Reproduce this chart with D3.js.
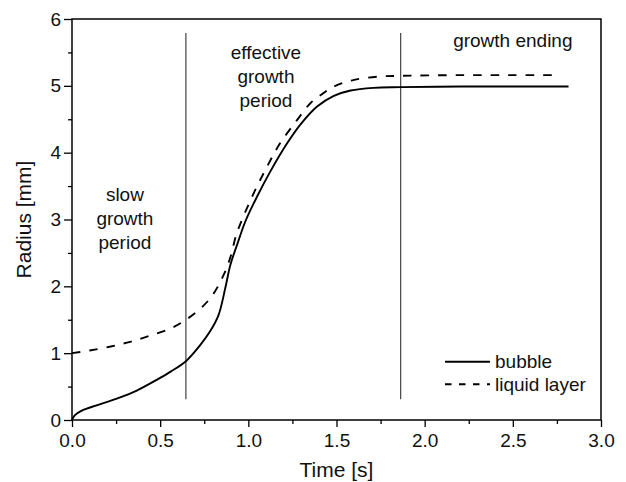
<!DOCTYPE html>
<html>
<head>
<meta charset="utf-8">
<script src="https://cdn.jsdelivr.net/npm/d3@7"></script>
<style>
  html, body { margin: 0; padding: 0; background: #fff; }
  svg { display: block; font-family: "Liberation Sans", Arial, sans-serif; }
</style>
</head>
<body>
<svg id="chart" width="626" height="482"></svg>
<script>
// Bubble radius over time (s, mm)
const bubbleTime = [0, 0.01, 0.03, 0.064, 0.14, 0.254, 0.367, 0.48, 0.557, 0.646, 0.727, 0.784, 0.831, 0.869, 0.898, 0.936, 0.983, 1.049, 1.125, 1.22, 1.295, 1.39, 1.485, 1.58, 1.71, 1.864, 2.2, 2.5, 2.816];
const bubbleRadius = [0, 0.05, 0.10, 0.15, 0.22, 0.32, 0.44, 0.60, 0.72, 0.88, 1.12, 1.33, 1.57, 1.97, 2.32, 2.62, 2.97, 3.34, 3.72, 4.14, 4.42, 4.69, 4.85, 4.93, 4.97, 4.98, 4.99, 4.99, 4.99];

// Liquid layer radius over time (s, mm)
const layerTime = [0, 0.1, 0.22, 0.33, 0.44, 0.56, 0.646, 0.73, 0.80, 0.86, 0.90, 0.93, 0.96, 1.03, 1.106, 1.18, 1.277, 1.352, 1.42, 1.485, 1.6, 1.75, 1.864, 2.2, 2.5, 2.76];
const layerRadius = [1.0, 1.04, 1.10, 1.17, 1.26, 1.37, 1.50, 1.67, 1.88, 2.17, 2.45, 2.76, 2.97, 3.39, 3.79, 4.14, 4.49, 4.74, 4.88, 4.99, 5.09, 5.14, 5.15, 5.16, 5.16, 5.16];

// Boundaries between growth stages (s)
const stageBounds = [0.646, 1.864];

// Axis ticks
const xMajorTicks = [0, 0.5, 1.0, 1.5, 2.0, 2.5, 3.0];
const xMinorTicks = [0.25, 0.75, 1.25, 1.75, 2.25, 2.75];
const yMajorTicks = [0, 1, 2, 3, 4, 5, 6];
const yMinorTicks = [0.5, 1.5, 2.5, 3.5, 4.5, 5.5];

// Stage annotations: lines of text and anchor position in data units
const stageLabels = [
  { lines: ["slow", "growth", "period"], t: 0.3, r: 3.27 },
  { lines: ["effective", "growth", "period"], t: 1.1, r: 5.4 },
  { lines: ["growth ending"], t: 2.5, r: 5.58 }
];

const legendItems = [
  { name: "bubble", dash: null },
  { name: "liquid layer", dash: "6.5,7.5" }
];

const svg = d3.select("#chart");
const plotLeft = 72, plotRight = 601, plotTop = 19, plotBottom = 420;

const x = d3.scaleLinear().domain([0, 3]).range([plotLeft, plotRight]);
const y = d3.scaleLinear().domain([0, 6]).range([plotBottom, plotTop]);

// Frame
svg.append("rect")
  .attr("x", plotLeft).attr("y", plotTop)
  .attr("width", plotRight - plotLeft).attr("height", plotBottom - plotTop)
  .attr("fill", "none").attr("stroke", "#000").attr("stroke-width", 1.5);

// Axes
const styleAxis = g => {
  g.select(".domain").remove();
  g.selectAll("line").attr("stroke", "#000").attr("stroke-width", 1.3);
  g.selectAll("text").attr("fill", "#111").style("font-size", "19px")
    .style("font-family", '"Liberation Sans", Arial, sans-serif');
};

svg.append("g").attr("transform", `translate(0,${plotBottom})`)
  .call(d3.axisBottom(x).tickValues(xMajorTicks).tickFormat(d3.format(".1f")).tickSize(7).tickPadding(7))
  .call(styleAxis);
svg.append("g").attr("transform", `translate(0,${plotBottom})`)
  .call(d3.axisBottom(x).tickValues(xMinorTicks).tickFormat("").tickSize(4))
  .call(styleAxis);

svg.append("g").attr("transform", `translate(${plotLeft},0)`)
  .call(d3.axisLeft(y).tickValues(yMajorTicks).tickFormat(d3.format("d")).tickSize(8).tickPadding(3))
  .call(styleAxis);
svg.append("g").attr("transform", `translate(${plotLeft},0)`)
  .call(d3.axisLeft(y).tickValues(yMinorTicks).tickFormat("").tickSize(4))
  .call(styleAxis);

// Axis titles
svg.append("text")
  .attr("x", (plotLeft + plotRight) / 2).attr("y", 477)
  .attr("text-anchor", "middle").style("font-size", "21px").attr("fill", "#111")
  .text("Time [s]");
svg.append("text")
  .attr("transform", `translate(31,${(plotTop + plotBottom) / 2}) rotate(-90)`)
  .attr("text-anchor", "middle").style("font-size", "21px").attr("fill", "#111")
  .text("Radius [mm]");

// Stage boundary lines
svg.selectAll("line.stage").data(stageBounds).join("line")
  .attr("class", "stage")
  .attr("x1", d => x(d)).attr("x2", d => x(d))
  .attr("y1", y(5.79)).attr("y2", y(0.31))
  .attr("stroke", "#333").attr("stroke-width", 1.1);

// Curves
const line = d3.line()
  .x(d => x(d[0])).y(d => y(d[1]))
  .curve(d3.curveCatmullRom.alpha(0.5));

const bubble = d3.zip(bubbleTime, bubbleRadius);
const layer = d3.zip(layerTime, layerRadius);

svg.append("path").datum(layer)
  .attr("d", line).attr("fill", "none")
  .attr("stroke", "#000").attr("stroke-width", 1.9)
  .attr("stroke-dasharray", "8.5,9");

svg.append("path").datum(bubble)
  .attr("d", line).attr("fill", "none")
  .attr("stroke", "#000").attr("stroke-width", 1.9);

// Stage annotations
stageLabels.forEach(s => {
  const t = svg.append("text")
    .attr("text-anchor", "middle").style("font-size", "19px").attr("fill", "#111");
  s.lines.forEach((ln, i) => {
    t.append("tspan").attr("x", x(s.t)).attr("y", y(s.r) + i * 23.7).text(ln);
  });
});

// Legend
const legend = svg.append("g");
legendItems.forEach((item, i) => {
  const ly = 361.7 + i * 22.6;
  legend.append("line")
    .attr("x1", 445).attr("x2", 490).attr("y1", ly).attr("y2", ly)
    .attr("stroke", "#000").attr("stroke-width", 1.9)
    .attr("stroke-dasharray", item.dash);
  legend.append("text")
    .attr("x", 495).attr("y", ly + 6.5)
    .style("font-size", "19px").attr("fill", "#111")
    .text(item.name);
});
</script>
</body>
</html>
